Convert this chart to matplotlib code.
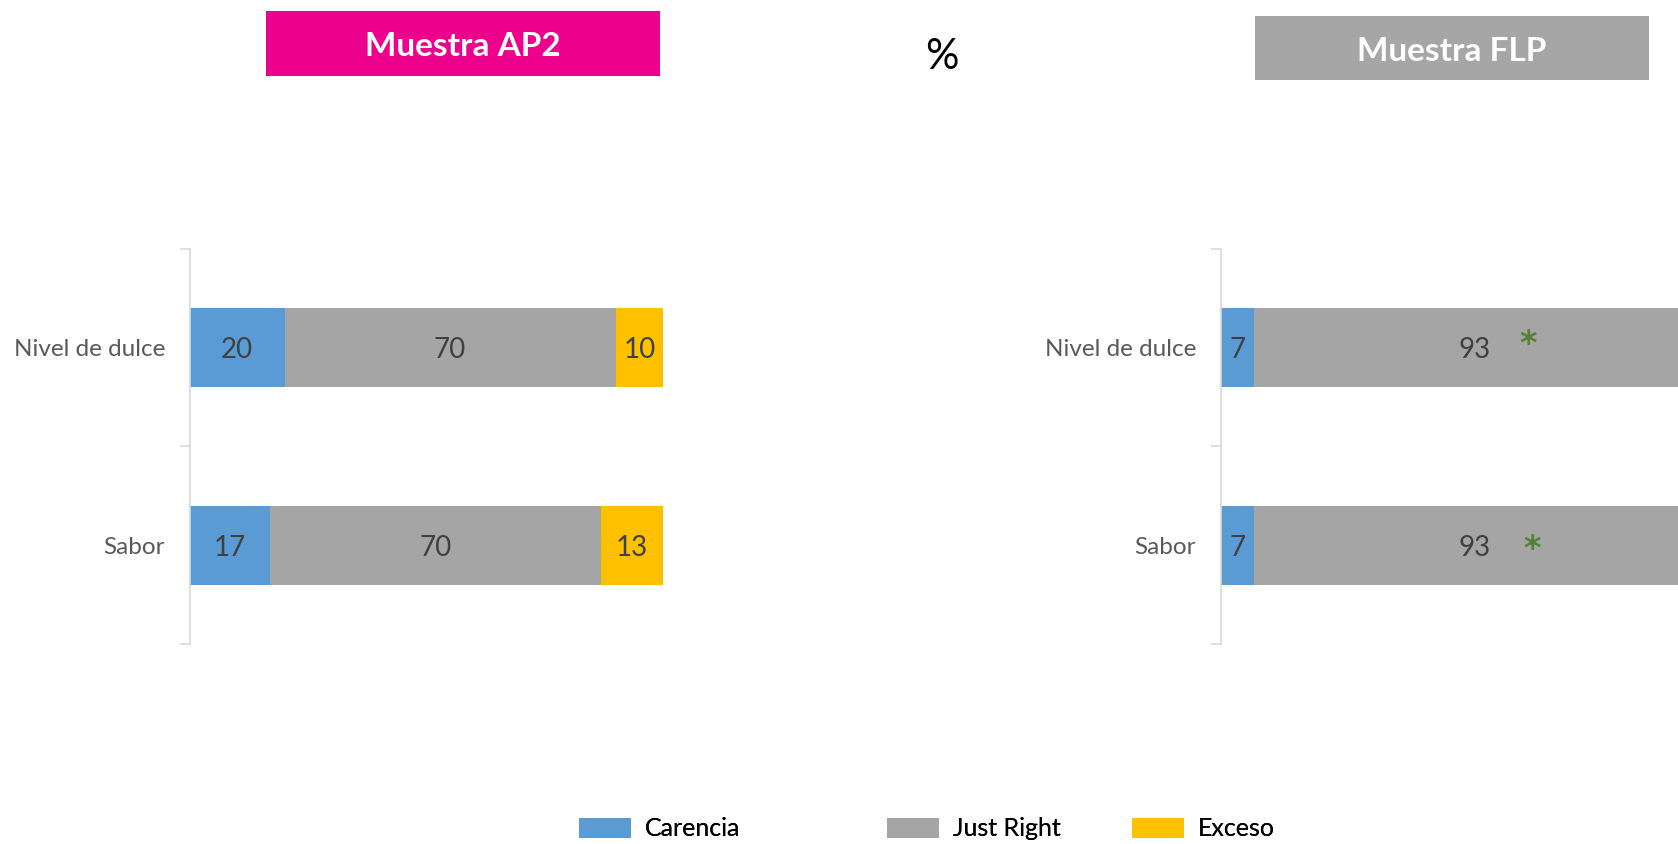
import matplotlib
matplotlib.use("Agg")
from matplotlib import pyplot as plt
from matplotlib.patches import Rectangle, Patch

plt.rcParams["font.family"] = ["Lato", "DejaVu Sans"]

categories = ["Nivel de dulce", "Sabor"]
series_names = ["Carencia", "Just Right", "Exceso"]
colors = ["#5B9BD5", "#A5A5A5", "#FFC000"]

ap2_carencia = [20, 17]
ap2_just_right = [70, 70]
ap2_exceso = [10, 13]

flp_carencia = [7, 7]
flp_just_right = [93, 93]
flp_exceso = [0, 0]

# significance marks on the Just Right segment of FLP
flp_signif = ["*", "*"]
signif_offsets = [(39, 2), (42, -3)]

# legend entry left edges (figure fraction)
legend_x = [0.345, 0.5286, 0.6746]


def draw_panel(ax, values, signif=None):
    y = list(range(len(categories)))
    left = [0] * len(categories)
    for k, (vals, col) in enumerate(zip(values, colors)):
        bars = ax.barh(y, vals, left=left, height=0.4, color=col, edgecolor="none")
        for i, (b, v) in enumerate(zip(bars, vals)):
            if v <= 0:
                continue
            cx = b.get_x() + b.get_width() / 2
            cy = b.get_y() + b.get_height() / 2
            ax.text(cx, cy, str(v), ha="center", va="center_baseline",
                    fontsize=20, color="#404040")
            if signif is not None and k == 1 and signif[i]:
                ax.annotate(signif[i], (cx, cy), xytext=signif_offsets[i],
                            textcoords="offset points", ha="center", va="center",
                            fontsize=24, fontweight="bold", color="#548235",
                            family="DejaVu Sans")
        left = [l + v for l, v in zip(left, vals)]
    ax.set_xlim(0, 100)
    ax.set_ylim(len(categories) - 0.5, -0.5)
    ax.set_yticks(y)
    ax.set_yticklabels(categories, fontsize=17.5, color="#595959")
    ax.set_yticks([i - 0.5 for i in range(len(categories) + 1)], minor=True)
    ax.tick_params(axis="y", which="major", length=0, pad=18)
    ax.tick_params(axis="y", which="minor", length=7, color="#D9D9D9", width=1.2)
    ax.set_xticks([])
    for s in ["top", "right", "bottom"]:
        ax.spines[s].set_visible(False)
    ax.spines["left"].set_color("#D9D9D9")
    ax.spines["left"].set_linewidth(1.2)


fig = plt.figure(figsize=(16.78, 8.44), dpi=100)

ax1 = fig.add_axes([0.1132, 0.237, 0.2819, 0.468])
draw_panel(ax1, [ap2_carencia, ap2_just_right, ap2_exceso])

ax2 = fig.add_axes([0.7277, 0.237, 0.2819, 0.468])
draw_panel(ax2, [flp_carencia, flp_just_right, flp_exceso], flp_signif)

# header boxes
fig.add_artist(Rectangle((0.1585, 0.910), 0.2348, 0.077, transform=fig.transFigure,
                         facecolor="#EC008C", edgecolor="none"))
fig.text(0.1585 + 0.2348 / 2, 0.910 + 0.077 / 2 - 0.004, "Muestra AP2", ha="center",
         va="center", fontsize=24, fontweight="bold", color="white")
fig.add_artist(Rectangle((0.7479, 0.9052), 0.2348, 0.0758, transform=fig.transFigure,
                         facecolor="#A6A6A6", edgecolor="none"))
fig.text(0.7479 + 0.2348 / 2, 0.9052 + 0.0758 / 2 - 0.004, "Muestra FLP", ha="center",
         va="center", fontsize=24, fontweight="bold", color="white")

fig.text(0.5614, 0.932, "%", ha="center", va="center", fontsize=30, color="black")

for c, n, lx in zip(colors, series_names, legend_x):
    h = Patch(facecolor=c, edgecolor="none", label=n)
    leg = fig.legend(handles=[h], loc="center left", bbox_to_anchor=(lx, 0.018),
                     frameon=False, fontsize=18, handlelength=2.1, handleheight=0.85,
                     handletextpad=0.55, borderpad=0, borderaxespad=0)
    fig.add_artist(leg)

fig.savefig("out.png", dpi=100)
